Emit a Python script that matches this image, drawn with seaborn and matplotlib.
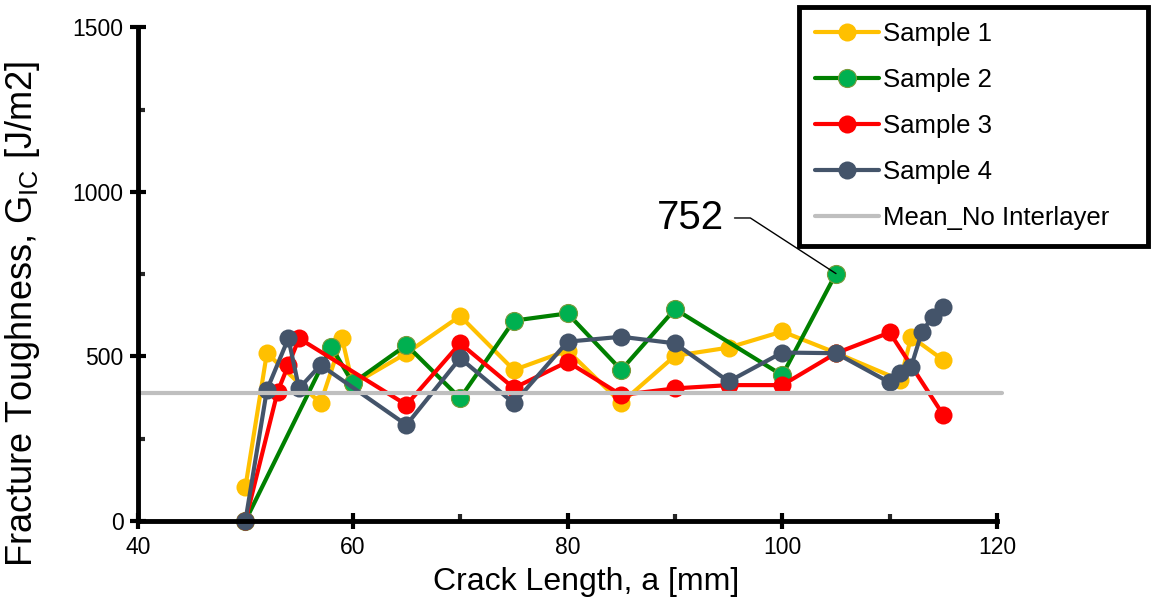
import matplotlib
matplotlib.use("Agg")
import pandas as pd
import seaborn as sns
import matplotlib.pyplot as plt
from matplotlib.ticker import MultipleLocator

# values
s1_x = [50, 52, 57, 59, 60, 65, 70, 75, 80, 85, 90, 95, 100, 105, 111, 112, 115]
s1_y = [103, 510, 358, 555, 415, 510, 623, 459, 518, 359, 502, 527, 576, 511, 428, 560, 489]

s2_x = [50, 58, 60, 65, 70, 75, 80, 85, 90, 100, 105]
s2_y = [0, 530, 419, 535, 373, 609, 631, 459, 644, 443, 752]

s3_x = [50, 53, 54, 55, 65, 70, 75, 80, 85, 90, 95, 100, 105, 110, 115]
s3_y = [0, 393, 474, 555, 353, 540, 404, 484, 383, 403, 413, 413, 510, 573, 322]

s4_x = [50, 52, 54, 55, 57, 65, 70, 75, 80, 85, 90, 95, 100, 105, 110, 111, 112, 113, 114, 115]
s4_y = [0, 398, 555, 403, 474, 292, 495, 358, 545, 560, 540, 424, 512, 510, 421, 449, 469, 575, 621, 651]

mean_x = [40, 120.5]
mean_y = [389, 389]

peak_label = "752"
peak_x, peak_y = 105, 752

sns.set_style("ticks")
plt.rcParams["font.family"] = ["Liberation Sans", "DejaVu Sans"]
plt.rcParams["text.color"] = "black"
plt.rcParams["axes.labelcolor"] = "black"

fig = plt.figure(figsize=(11.52, 6.07), dpi=100)
ax = fig.add_axes([0.1198, 0.1417, 0.7457, 0.813])

series = [
    ("Sample 1", s1_x, s1_y, "#FFC000", "#FFC000", "none"),
    ("Sample 2", s2_x, s2_y, "#008000", "#00B050", "#7A9A3A"),
    ("Sample 3", s3_x, s3_y, "#FF0000", "#FF0000", "none"),
    ("Sample 4", s4_x, s4_y, "#44546A", "#44546A", "none"),
]
for name, xs, ys, lc, fc, ec in series:
    d = pd.DataFrame({"a": xs, "G": ys})
    sns.lineplot(data=d, x="a", y="G", ax=ax, color=lc, lw=3, marker="o",
                 markersize=13, markerfacecolor=fc, markeredgecolor=ec,
                 markeredgewidth=0.8, estimator=None, sort=False,
                 label=name, clip_on=False)

dm = pd.DataFrame({"a": mean_x, "G": mean_y})
sns.lineplot(data=dm, x="a", y="G", ax=ax, color="#BFBFBF", lw=3,
             estimator=None, label="Mean_No Interlayer", clip_on=False)

ax.set_xlim(40, 120)
ax.set_ylim(0, 1500)
ax.xaxis.set_major_locator(MultipleLocator(20))
ax.xaxis.set_minor_locator(MultipleLocator(10))
ax.yaxis.set_major_locator(MultipleLocator(500))
ax.yaxis.set_minor_locator(MultipleLocator(250))
ax.tick_params(which="major", direction="inout", length=11, width=3,
               labelsize=16.5, colors="black", pad=5)
ax.tick_params(which="minor", direction="in", length=5, width=3)
for s in ["top", "right"]:
    ax.spines[s].set_visible(False)
for s in ["left", "bottom"]:
    ax.spines[s].set_linewidth(3.5)
    ax.spines[s].set_color("black")

ax.set_xlabel("Crack Length, a [mm]", fontsize=23, color="black")
ax.set_ylabel("Fracture Toughness, G$_{\\mathregular{IC}}$ [J/m2]", fontsize=26, color="black")
ax.xaxis.set_label_coords(0.5215, -0.093)
ax.yaxis.set_label_coords(-0.112, 0.42)

ax.annotate(peak_label, xy=(peak_x, peak_y), xytext=(94.6, 921),
            ha="right", va="center", fontsize=29, color="black",
            arrowprops=dict(arrowstyle="-", color="black", lw=1,
                            shrinkA=5, shrinkB=0,
                            connectionstyle="angle,angleA=0,angleB=147,rad=0"))

leg = ax.legend(loc="upper left", bbox_to_anchor=(0.694, 0.979, 0.3025, 0.01),
                bbox_transform=fig.transFigure, mode="expand",
                fontsize=18.5, frameon=True, fancybox=False, framealpha=1,
                edgecolor="black", borderpad=0.6, labelspacing=0.86,
                handlelength=2.5, handletextpad=0.15, borderaxespad=0,
                labelcolor="black")
leg.get_frame().set_linewidth(3.5)

plt.savefig("out.png", dpi=100)
